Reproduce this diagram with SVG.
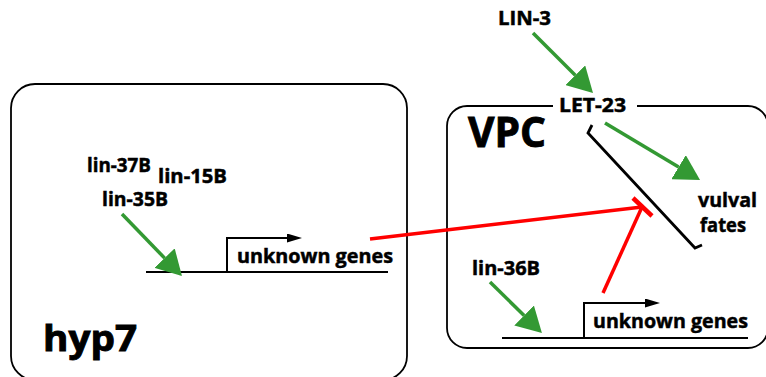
<svg xmlns="http://www.w3.org/2000/svg" width="766" height="377" viewBox="0 0 766 377">
<style>
text{font-family:"Open Sans","DejaVu Sans",sans-serif;font-weight:bold;fill:#000;stroke:#000;stroke-width:0.5}
.lbl{font-size:20px}
.big{font-size:42px;stroke-width:0.9}
.box{fill:none;stroke:#000;stroke-width:1.8}
.gene{fill:none;stroke:#000;stroke-width:2}
.act{fill:none;stroke:#339933;stroke-width:3.5}
.inh{fill:none;stroke:#ff0000;stroke-width:3.5}
.blk{fill:none;stroke:#000;stroke-width:2.8;stroke-linejoin:miter}
</style>
<defs>
<marker id="ga" markerUnits="userSpaceOnUse" viewBox="0 0 25 28" refX="0" refY="14" markerWidth="25" markerHeight="28" orient="auto">
<path d="M0,0 L25,14 L0,28 z" fill="#339933"/>
</marker>
<marker id="ba" markerUnits="userSpaceOnUse" viewBox="0 0 15 9" refX="0" refY="4.5" markerWidth="15" markerHeight="9" orient="auto">
<path d="M0,0 L15,4.5 L0,9 z" fill="#000"/>
</marker>
</defs>
<g id="hyp7">
<rect class="box" x="11" y="84" width="396" height="296" rx="24" ry="24"/>
<text x="43" y="351" style="font-size:35px;stroke-width:0.9" textLength="94" lengthAdjust="spacingAndGlyphs">hyp7</text>
</g>
<g id="vpc">
<path class="box" d="M553,106 H467 A20,20 0 0 0 447,126 V328 A20,20 0 0 0 467,348 H748 A20,20 0 0 0 768,328 V126 A20,20 0 0 0 748,106 H637"/>
<text class="big" x="468" y="147" textLength="78" lengthAdjust="spacingAndGlyphs">VPC</text>
</g>
<g id="lin-37B"><text class="lbl" x="87" y="172" textLength="64" lengthAdjust="spacingAndGlyphs">lin-37B</text></g>
<g id="lin-15B"><text class="lbl" x="158" y="183" textLength="69" lengthAdjust="spacingAndGlyphs">lin-15B</text></g>
<g id="lin-35B"><text class="lbl" x="102" y="206" textLength="66" lengthAdjust="spacingAndGlyphs">lin-35B</text></g>
<g id="gene-hyp7">
<line class="gene" x1="146" y1="272" x2="388" y2="272"/>
<polyline class="gene" points="227,272 227,238 287,238" marker-end="url(#ba)"/>
<text class="lbl" x="237" y="263" textLength="156" lengthAdjust="spacingAndGlyphs">unknown genes</text>
</g>
<g id="LIN-3"><text class="lbl" x="498" y="25" textLength="53" lengthAdjust="spacingAndGlyphs">LIN-3</text></g>
<g id="LET-23"><text class="lbl" x="559" y="112" textLength="67" lengthAdjust="spacingAndGlyphs">LET-23</text></g>
<g id="vulval-fates">
<text class="lbl" x="698" y="207" textLength="59" lengthAdjust="spacingAndGlyphs">vulval</text>
<text class="lbl" x="700" y="232" textLength="46" lengthAdjust="spacingAndGlyphs">fates</text>
</g>
<g id="lin-36B"><text class="lbl" x="472" y="275" textLength="68" lengthAdjust="spacingAndGlyphs">lin-36B</text></g>
<g id="gene-vpc">
<line class="gene" x1="502" y1="338" x2="748" y2="338"/>
<polyline class="gene" points="584,338 584,303 645,303" marker-end="url(#ba)"/>
<text class="lbl" x="593" y="328" textLength="155" lengthAdjust="spacingAndGlyphs">unknown genes</text>
</g>
<g id="connectors">
<line class="act" x1="122" y1="214" x2="164.6" y2="258.1" marker-end="url(#ga)"/>
<line class="act" x1="533" y1="33" x2="575.3" y2="75.3" marker-end="url(#ga)"/>
<line class="act" x1="605" y1="123" x2="678.6" y2="167.1" marker-end="url(#ga)"/>
<line class="act" x1="490" y1="282" x2="524.1" y2="315.5" marker-end="url(#ga)"/>
<polyline class="blk" points="592,125 588,133 695,248 702,245"/>
<line class="inh" x1="370" y1="239" x2="642" y2="207"/>
<line class="inh" x1="603" y1="293" x2="642" y2="207"/>
<line class="inh" x1="633" y1="198" x2="652" y2="216" style="stroke-width:4.5"/>
</g>
</svg>
